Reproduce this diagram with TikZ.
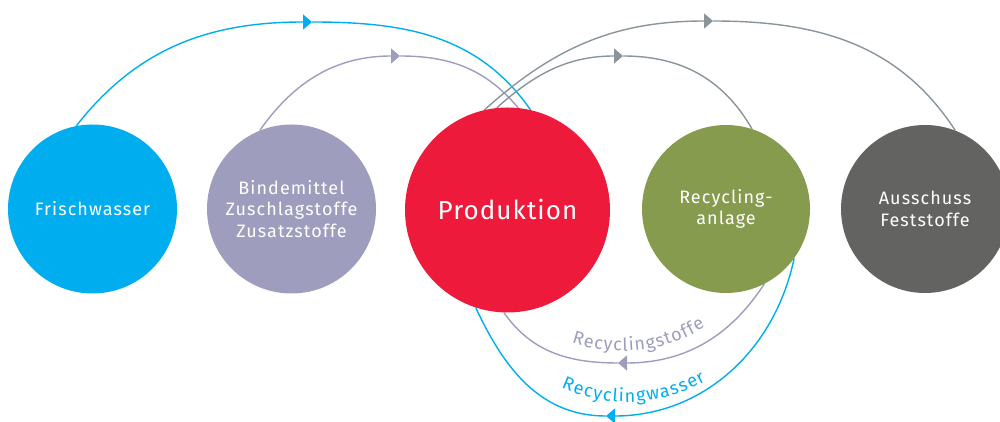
\documentclass[tikz,border=0pt]{standalone}
\usepackage{fontspec}
\setmainfont{Fira Sans}
\newfontfamily\circfont[LetterSpace=6]{Fira Sans}
\newfontfamily\prodfamily[LetterSpace=4]{Fira Sans}
\usetikzlibrary{arrows.meta,decorations.text,backgrounds}
\definecolor{cblue}{HTML}{00AEEF}
\definecolor{clav}{HTML}{9E9DBE}
\definecolor{cred}{HTML}{ED1A3B}
\definecolor{cgreen}{HTML}{879B4F}
\definecolor{cdark}{HTML}{636362}
\definecolor{cline}{HTML}{89949B}
\newcommand\arcfont{\fontsize{18}{18}\selectfont}
\begin{document}
\begin{tikzpicture}[x=1pt,y=1pt,
  disc/.style={circle,inner sep=0pt,text=white,align=center,
    font=\circfont\fontsize{18}{21.5}\selectfont},
  conn/.style={line width=1.4pt},
  arrowed/.style={-{Triangle[length=9pt,width=15pt]}}]
\useasboundingbox (0,0) rectangle (1000,422);
\clip (0,0) rectangle (1000,422);

\node[disc,fill=cblue,minimum size=169pt] (fw) at (92.5,213) {Frischwasser};
\node[disc,fill=clav,minimum size=169pt] (bm) at (291.5,213) {Bindemittel\\Zuschlagstoffe\\Zusatzstoffe};
\node[disc,fill=cred,minimum size=205pt,font=\prodfamily\fontsize{26}{30}\selectfont] (prod) at (507.5,212) {Produktion};
\node[disc,fill=cgreen,minimum size=168pt] (rec) at (726,213) {Recycling-\\anlage};
\node[disc,fill=cdark,minimum size=168pt] (aus) at (925,213) {Ausschuss\\Feststoffe};

\coordinate (pk1) at (312,400);
\coordinate (pk2) at (400,366);
\coordinate (pk3) at (713,401);
\coordinate (pk4) at (623,366);
\coordinate (pk5) at (618,59);
\coordinate (pk6) at (606,6);

\begin{pgfonlayer}{background}
% top arcs
\draw[conn,cblue,arrowed] (fw.101) to[out=52,in=180] (pk1);
\draw[conn,cblue] (pk1) to[out=0,in=125] (prod.77);
\draw[conn,clav,arrowed] (bm.112) to[out=55,in=180] (pk2);
\draw[conn,clav] (pk2) to[out=0,in=130] (prod.84);
\draw[conn,cline,arrowed] (prod.103) to[out=42,in=180] (pk3);
\draw[conn,cline] (pk3) to[out=0,in=123] (aus.69);
\draw[conn,cline,arrowed] (prod.96) to[out=42,in=180] (pk4);
\draw[conn,cline] (pk4) to[out=0,in=120] (rec.72);
% bottom arcs
\draw[conn,clav,arrowed] (rec.297) to[out=237,in=0] (pk5);
\draw[conn,clav] (pk5) to[out=180,in=-55] (prod.268);
\draw[conn,cblue,arrowed] (rec.324) to[out=258,in=0] (pk6);
\draw[conn,cblue] (pk6) to[out=180,in=-65] (prod.252);
\end{pgfonlayer}

% labels along the bottom arcs
\path[decorate,decoration={text along path,text align=fit to path,text color=clav,
  text={|\arcfont|Recyclingstoffe}}]
  (622,226) ++(-109:155pt) arc[start angle=-109,end angle=-57.5,radius=155pt];
\path[decorate,decoration={text along path,text align=fit to path,text color=cblue,
  text={|\arcfont|Recyclingwasser}}]
  (627,178) ++(-114.6:158pt) arc[start angle=-114.6,end angle=-60,radius=158pt];
\end{tikzpicture}
\end{document}
